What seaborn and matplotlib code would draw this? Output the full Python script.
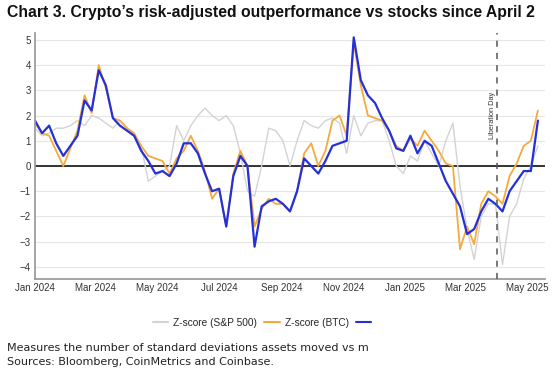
import numpy as np
import pandas as pd
import matplotlib
matplotlib.use("Agg")
import matplotlib.pyplot as plt
import matplotlib.dates as mdates
from matplotlib.lines import Line2D
import seaborn as sns

# weekly readings, Mondays from 1 Jan 2024
dates = pd.date_range("2024-01-01", periods=72, freq="7D")

spx = [1.5, 1.2, 1.3, 1.5, 1.5, 1.6, 1.8, 1.6, 2.0, 1.9,
       1.7, 1.5, 1.8, 1.5, 1.2, 0.8, -0.6, -0.4, -0.2, 0.0,
       1.6, 1.0, 1.6, 2.0, 2.3, 2.0, 1.8, 2.0, 1.6, 0.5,
       -1.0, -1.2, 0.0, 1.5, 1.4, 1.0, 0.0, 1.0, 1.8, 1.6,
       1.5, 1.8, 1.9, 1.7, 0.5, 2.0, 1.2, 1.7, 1.8, 1.8,
       1.0, 0.0, -0.3, 0.4, 0.2, 1.0, 0.5, 0.0, 1.0, 1.7,
       -0.8, -2.5, -3.7, -2.0, -1.5, -1.5, -3.9, -2.0, -1.5, -0.5,
       0.0, 0.8]

btc = [1.7, 1.3, 1.2, 0.6, 0.0, 0.7, 1.4, 2.8, 2.1, 4.0,
       3.1, 1.9, 1.8, 1.5, 1.3, 0.8, 0.4, 0.3, 0.2, -0.3,
       0.3, 0.6, 1.2, 0.6, -0.2, -1.3, -0.9, -2.4, -0.3, 0.6,
       0.0, -2.4, -1.7, -1.3, -1.5, -1.5, -1.8, -1.0, 0.5, 0.9,
       0.0, 0.6, 1.8, 2.0, 1.2, 4.9, 3.2, 2.0, 1.9, 1.8,
       1.4, 0.8, 0.6, 1.1, 0.8, 1.4, 1.0, 0.6, 0.1, 0.0,
       -3.3, -2.4, -3.1, -1.5, -1.0, -1.2, -1.5, -0.4, 0.1, 0.8,
       1.0, 2.2]

blue = [1.8, 1.3, 1.6, 0.9, 0.4, 0.8, 1.2, 2.6, 2.2, 3.8,
        3.2, 1.9, 1.6, 1.4, 1.2, 0.6, 0.2, -0.3, -0.2, -0.4,
        0.1, 0.9, 0.9, 0.5, -0.3, -1.0, -0.9, -2.4, -0.4, 0.4,
        0.0, -3.2, -1.6, -1.4, -1.3, -1.5, -1.8, -1.0, 0.3, 0.0,
        -0.3, 0.2, 0.8, 0.9, 1.0, 5.1, 3.4, 2.8, 2.5, 1.9,
        1.4, 0.7, 0.6, 1.2, 0.5, 1.0, 0.8, 0.1, -0.6, -1.1,
        -1.6, -2.7, -2.5, -1.8, -1.3, -1.5, -1.8, -1.0, -0.6, -0.2,
        -0.2, 1.8]

labels = ["Z-score (S&P 500)", "Z-score (BTC)", ""]
colors = ["#d3d3d3", "#f4aa3c", "#2430d8"]
widths = [1.0, 1.3, 1.6]

lib_day = pd.Timestamp("2025-04-02")
month_ticks = pd.date_range("2024-01-01", "2025-05-01", freq="2MS")

sns.set_theme(style="white")
plt.rcParams["font.family"] = ["Liberation Sans", "DejaVu Sans"]

df = pd.DataFrame({"date": dates, "spx": spx, "btc": btc, "blue": blue})

fig = plt.figure(figsize=(5.55, 3.73), dpi=100)
ax = fig.add_axes([0.063, 0.252, 0.919, 0.66])

for col, c, lw in zip(["spx", "btc", "blue"], colors, widths):
    sns.lineplot(data=df, x="date", y=col, ax=ax, color=c, linewidth=lw)

ax.axhline(0, color="#333333", lw=1.4, zorder=1)
ax.axvline(lib_day, color="#555555", lw=1.1, ls=(0, (4, 4)), zorder=4)
ax.text(lib_day - pd.Timedelta(days=5), 2.0, "Liberation Day", rotation=90,
        ha="center", va="center", fontsize=5.3, color="#333333")

ax.set_ylim(-4.48, 5.28)
ax.set_xlim(pd.Timestamp("2024-01-01"), pd.Timestamp("2025-05-19"))
ax.set_yticks(range(-4, 6))
ax.set_xticks(month_ticks)
ax.xaxis.set_major_formatter(mdates.DateFormatter("%b %Y"))
ax.grid(axis="y", color="#e6e6e6", lw=0.8)
ax.set_axisbelow(True)
ax.tick_params(length=0, labelsize=7, colors="#333333", pad=3)
ax.set_xlabel("")
ax.set_ylabel("")
sns.despine(ax=ax)
ax.spines["left"].set_color("#999999")
ax.spines["bottom"].set_color("#999999")

handles = [Line2D([], [], color=c, lw=1.5) for c in colors]
fig.legend(handles, labels, loc="center left", bbox_to_anchor=(0.276, 0.134), ncol=3,
           frameon=False, fontsize=7.3, handlelength=1.5, columnspacing=0.7,
           handletextpad=0.5, borderpad=0, borderaxespad=0)

fig.text(0.013, 0.966, "Chart 3. Crypto\u2019s risk-adjusted outperformance vs stocks since April 2",
         fontsize=11.3, fontweight="bold", va="center", ha="left", color="#111111")
fig.text(0.013, 0.067, "Measures the number of standard deviations assets moved vs m",
         fontsize=8.0, family="DejaVu Sans", va="center", color="#222222")
fig.text(0.013, 0.029, "Sources: Bloomberg, CoinMetrics and Coinbase.",
         fontsize=8.0, family="DejaVu Sans", va="center", color="#222222")

fig.savefig("out.png", dpi=100)
